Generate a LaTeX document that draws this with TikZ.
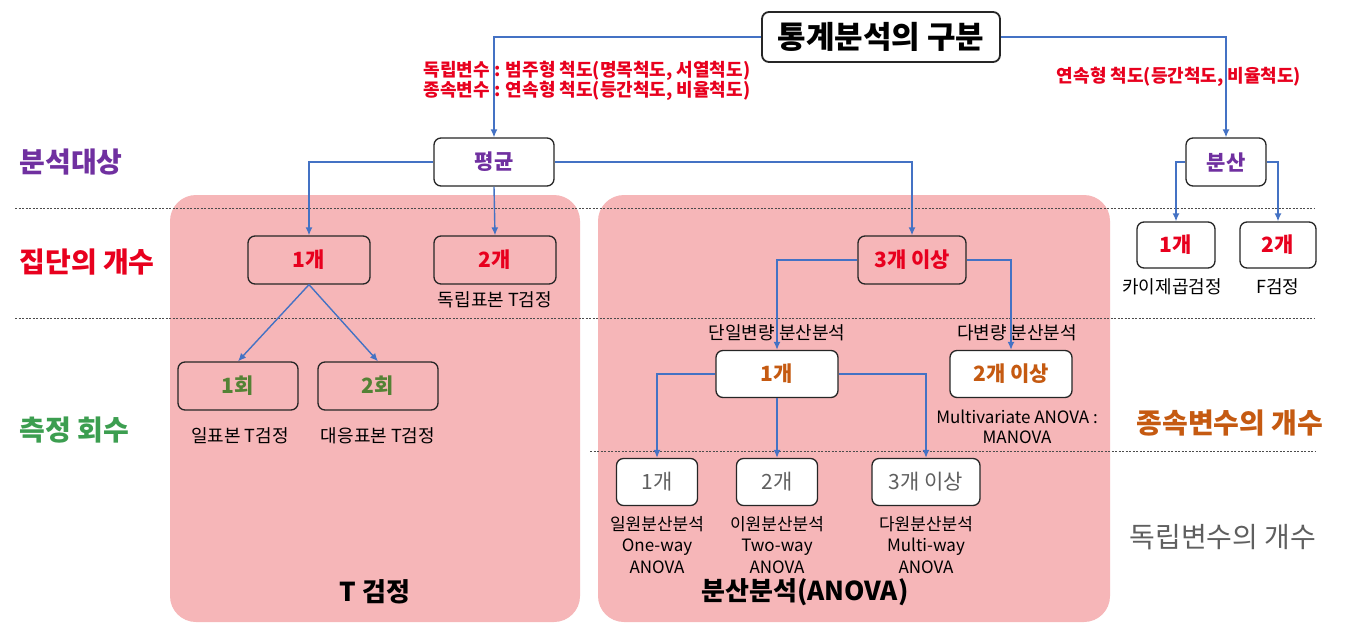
\documentclass[tikz,border=0pt]{standalone}
\usepackage{fontspec}
\setmainfont{Noto Sans CJK KR}
\usetikzlibrary{arrows.meta}
\definecolor{linkblue}{RGB}{68,114,196}
\definecolor{pinkbg}{RGB}{246,182,184}
\definecolor{headpurple}{RGB}{112,48,160}
\definecolor{headred}{RGB}{232,0,30}
\definecolor{headgreen}{RGB}{60,158,80}
\definecolor{boxgreen}{RGB}{84,130,53}
\definecolor{headorange}{RGB}{197,90,17}
\definecolor{headgrey}{RGB}{95,95,95}

\begin{document}
\begin{tikzpicture}[x=1pt, y=-1pt, every node/.style={font=\fontsize{18}{21}\selectfont}, >={Latex[length=8pt,width=7pt]},
	box/.style={draw=black!85, line width=1.3pt, rounded corners=7pt, minimum width=122pt, minimum height=48pt, font=\fontsize{21}{24}\selectfont\bfseries},
	wbox/.style={box, fill=white},
	link/.style={->, draw=linkblue, line width=1.4pt},
	guide/.style={draw=black!70, dash pattern=on 2pt off 1.5pt, line width=0.8pt},
	region/.style={fill=pinkbg, rounded corners=26pt},
	rowlbl/.style={anchor=west, font=\fontsize{28}{32}\selectfont\bfseries},
	scale note/.style={text=headred, font=\fontsize{18}{19}\selectfont\bfseries, align=center}]
	\useasboundingbox (0,0) rectangle (1345,622);
	\fill[white] (0,0) rectangle (1345,622);
	% background areas
	\fill[region] (170,195) rectangle (580,622);
	\fill[region] (598,195) rectangle (1110,622);
	\draw[guide] (15,208) -- (1315,208);
	\draw[guide] (15,318) -- (1315,318);
	\draw[guide] (590,451) -- (1315,451);
	% row headings
	\node[rowlbl, text=headpurple] (hobj) at (16,162) {분석대상};
	\node[rowlbl, text=headred] (hgrp) at (16,262) {집단의 개수};
	\node[rowlbl, text=headgreen] (hmeas) at (16,430) {측정 회수};
	\node[rowlbl, text=headorange] (hdep) at (1133,423) {종속변수의 개수};
	\node[rowlbl, text=headgrey, font=\fontsize{28}{32}\selectfont] (hind) at (1126,537) {독립변수의 개수};
	% top
	\node[wbox, line width=1.8pt, minimum width=238pt, minimum height=50pt, font=\fontsize{31}{34}\selectfont\bfseries] (title) at (881,37) {통계분석의 구분};
	\node[scale note] (note1) at (587,81) {독립변수 : 범주형 척도(명목척도, 서열척도)\\종속변수 : 연속형 척도(등간척도, 비율척도)};
	\node[scale note] (note2) at (1179,77) {연속형 척도(등간척도, 비율척도)};
	\node[wbox, minimum width=120pt, text=headpurple] (avg) at (494,162) {평균};
	\node[wbox, minimum width=80pt, text=headpurple] (var) at (1226,162) {분산};
	\draw[link] (title.west) -| (avg.north);
	\draw[link] (title.east) -| (var.north);
	% T test
	\node[box, text=headred] (t1) at (309,260) {1개};
	\node[box, text=headred] (t2) at (495,260) {2개};
	\node (t2lbl) at (495,300) {독립표본 T검정};
	\node[box, minimum width=120pt, text=boxgreen] (r1) at (238,386) {1회};
	\node[box, minimum width=120pt, text=boxgreen] (r2) at (378,386) {2회};
	\node (r1lbl) at (240,436) {일표본 T검정};
	\node (r2lbl) at (378,436) {대응표본 T검정};
	\node[font=\fontsize{26}{30}\selectfont\bfseries] (tname) at (375,592) {T 검정};
	\draw[link] (avg.west) -| (t1.north);
	\draw[link] (avg.south) -- (t2.north);
	\draw[link] (t1.south) -- (r1.north);
	\draw[link] (t1.south) -- (r2.north);
	% ANOVA
	\node[box, minimum width=108pt, text=headred] (g3) at (912,260) {3개 이상};
	\node (uni) at (777,333) {단일변량 분산분석};
	\node (multi) at (1017,333) {다변량 분산분석};
	\node[wbox, minimum width=122pt, minimum height=47pt, text=headorange] (dv1) at (777,374) {1개};
	\node[wbox, minimum width=122pt, minimum height=47pt, text=headorange] (dvm) at (1011,374) {2개 이상};
	\node[align=center, font=\fontsize{17}{20}\selectfont] (manova) at (1017,427) {Multivariate ANOVA :\\MANOVA};
	\draw[link] (avg.east) -| (g3.north);
	\draw[link] (g3.west) -| (dv1.north);
	\draw[link] (g3.east) -| (dvm.north);
	\node[wbox, minimum width=81pt, minimum height=47pt, text=headgrey, font=\fontsize{21}{24}\selectfont] (iv1) at (657,482) {1개};
	\node[wbox, minimum width=81pt, minimum height=47pt, text=headgrey, font=\fontsize{21}{24}\selectfont] (iv2) at (777,482) {2개};
	\node[wbox, minimum width=108pt, minimum height=47pt, text=headgrey, font=\fontsize{21}{24}\selectfont] (iv3) at (926,482) {3개 이상};
	\draw[link] (dv1.west) -| (iv1.north);
	\draw[link] (dv1.south) -- (iv2.north);
	\draw[link] (dv1.east) -| (iv3.north);
	\node[align=center, font=\fontsize{17}{21.5}\selectfont] (iv1lbl) at (657,545) {일원분산분석\\One-way\\ANOVA};
	\node[align=center, font=\fontsize{17}{21.5}\selectfont] (iv2lbl) at (777,545) {이원분산분석\\Two-way\\ANOVA};
	\node[align=center, font=\fontsize{17}{21.5}\selectfont] (iv3lbl) at (926,545) {다원분산분석\\Multi-way\\ANOVA};
	\node[font=\fontsize{26}{30}\selectfont\bfseries] (aname) at (805,592) {분산분석(ANOVA)};
	% variance
	\node[wbox, minimum width=78pt, minimum height=46pt, text=headred] (c1) at (1176,245) {1개};
	\node[wbox, minimum width=76pt, minimum height=46pt, text=headred] (c2) at (1278,245) {2개};
	\node (c1lbl) at (1172,287) {카이제곱검정};
	\node (c2lbl) at (1278,287) {F검정};
	\draw[link] (var.west) -| (c1.north);
	\draw[link] (var.east) -| (c2.north);
\end{tikzpicture}
\end{document}
